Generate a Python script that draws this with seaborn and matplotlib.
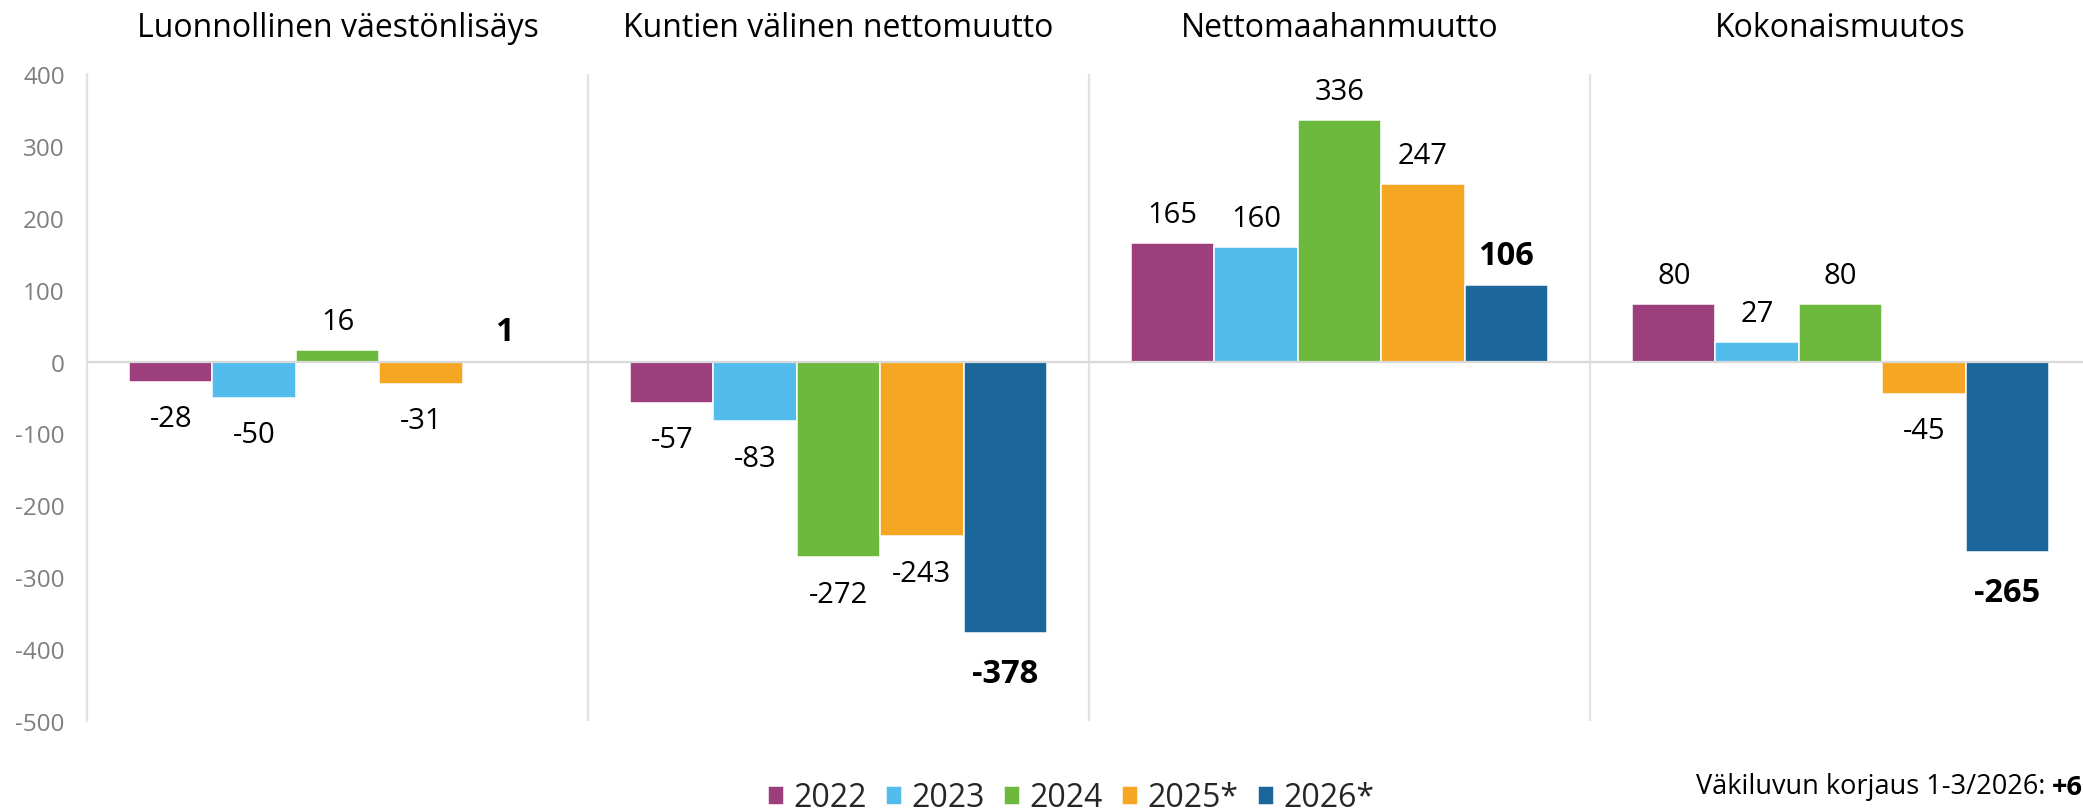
import matplotlib
matplotlib.use("Agg")
import matplotlib.pyplot as plt
import seaborn as sns
import pandas as pd
import numpy as np

# Population change components by year (persons)
categories = ["Luonnollinen väestönlisäys", "Kuntien välinen nettomuutto",
              "Nettomaahanmuutto", "Kokonaismuutos"]
years = ["2022", "2023", "2024", "2025*", "2026*"]
v2022 = [-28, -57, 165, 80]
v2023 = [-50, -83, 160, 27]
v2024 = [16, -272, 336, 80]
v2025 = [-31, -243, 247, -45]
v2026 = [1, -378, 106, -265]
yticks = [400, 300, 200, 100, 0, -100, -200, -300, -400, -500]
note_text = "Väkiluvun korjaus 1-3/2026:"
note_value = "+6"

colors = ["#9D3E7D", "#52BDEC", "#6DB93D", "#F5A623", "#1B679B"]

sns.set_theme(style="white")
plt.rcParams["font.family"] = ["Open Sans", "DejaVu Sans"]

series = [v2022, v2023, v2024, v2025, v2026]
df = pd.DataFrame({
    "kategoria": categories * len(years),
    "vuosi": np.repeat(years, len(categories)),
    "arvo": sum(series, []),
})

W, H = 2083, 812
fig = plt.figure(figsize=(W / 100, H / 100), dpi=100)
ax = fig.add_axes([87 / W, 1 - 722 / H, 2004 / W, 647 / H])

sns.barplot(data=df, x="kategoria", y="arvo", hue="vuosi",
            order=categories, hue_order=years, palette=colors,
            width=0.832, saturation=1, edgecolor="white", linewidth=1.1,
            errorbar=None, ax=ax, zorder=2)

ax.set_xlim(-0.5, 3.5)
ax.set_ylim(-500, 400)
ax.set_yticks(yticks)
ax.set_yticklabels([str(t) for t in yticks])
ax.tick_params(axis="y", length=0, pad=16, labelsize=17.5, labelcolor="#7f7f7f")
ax.set_xticks([])
ax.set_xlabel("")
ax.set_ylabel("")
for side in ["top", "right", "bottom"]:
    ax.spines[side].set_visible(False)
ax.spines["left"].set_color("#e3e3e3")
ax.spines["left"].set_linewidth(1.6)

# group separators and zero line
for k in range(1, len(categories)):
    ax.axvline(k - 0.5, color="#e3e3e3", linewidth=1.6, zorder=1)
ax.axhline(0, color="#d9d9d9", linewidth=1.6, zorder=3)

# group headings
for i, name in enumerate(categories):
    ax.text(i, 1 + 38.5 / 647, name, transform=ax.get_xaxis_transform(),
            ha="center", va="baseline", fontsize=23, color="black")

# value labels
for j, (cont, vals) in enumerate(zip(ax.containers, series)):
    bold = j == len(series) - 1
    fs = 23.5 if bold else 21
    for bar, v in zip(cont, vals):
        xc = bar.get_x() + bar.get_width() / 2
        if v >= 0:
            off = 21
        else:
            off = -(26 + 23) if bold else -(24 + 20.5)
        ax.annotate(f"{v}", (xc, v), xytext=(0, off), textcoords="offset pixels",
                    ha="center", va="baseline", fontsize=fs,
                    fontweight="bold" if bold else "normal", color="black",
                    annotation_clip=False)

# legend
sns.move_legend(ax, "center", bbox_to_anchor=(1071 / W, 1 - 799 / H),
                bbox_transform=fig.transFigure, ncol=5, frameon=False, title=None,
                fontsize=23, handlelength=0.5, handleheight=0.55,
                handletextpad=0.3, columnspacing=0.6)

# correction note at bottom right
val = fig.text(1.0, 1 - 795 / H, note_value, ha="right", va="baseline",
               fontsize=19.5, fontweight="bold", color="black")
ax.annotate(note_text, xy=(0, 0), xycoords=val, xytext=(-7, 0),
            textcoords="offset pixels", ha="right", va="bottom",
            fontsize=19.5, color="black", annotation_clip=False)

fig.savefig("out.png", dpi=100)
